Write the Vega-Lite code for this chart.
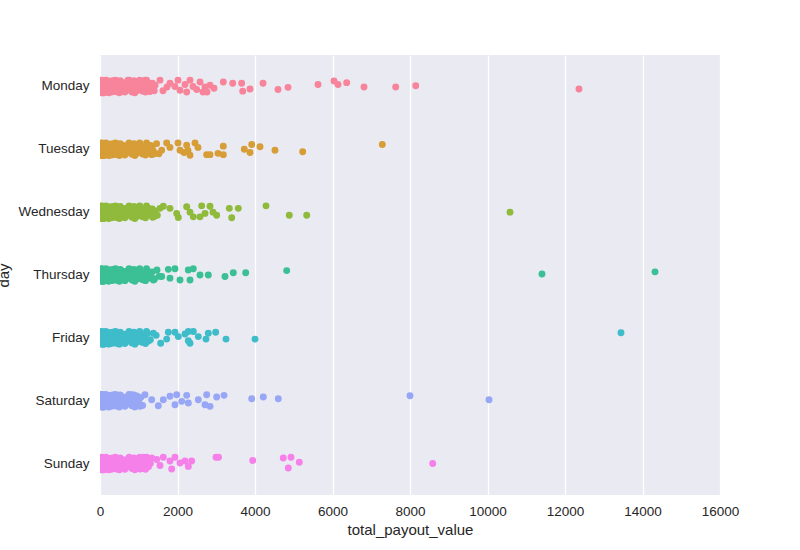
{
  "$schema": "https://vega.github.io/schema/vega-lite/v6.json",
  "autosize": "none",
  "width": 620,
  "height": 440,
  "padding": {"left": 100, "top": 55, "right": 80, "bottom": 55},
  "background": "white",
  "config": {
    "view": {"fill": "#EAEAF2", "stroke": null},
    "font": "Liberation Sans"
  },
  "data": {"values": [
    {"day":"Monday","v":0,"j":-0.1},{"day":"Monday","v":10,"j":0.05},{"day":"Monday","v":25,"j":-0.025},{"day":"Monday","v":40,"j":0.1},{"day":"Monday","v":55,"j":-0.075},{"day":"Monday","v":70,"j":0.025},{"day":"Monday","v":90,"j":-0.05},{"day":"Monday","v":110,"j":0.075},{"day":"Monday","v":130,"j":0},{"day":"Monday","v":150,"j":-0.1},{"day":"Monday","v":175,"j":0.05},{"day":"Monday","v":200,"j":-0.025},{"day":"Monday","v":225,"j":0.1},{"day":"Monday","v":250,"j":-0.075},{"day":"Monday","v":280,"j":0.025},{"day":"Monday","v":310,"j":-0.05},{"day":"Monday","v":340,"j":0.075},{"day":"Monday","v":370,"j":0},{"day":"Monday","v":400,"j":-0.1},{"day":"Monday","v":430,"j":0.05},{"day":"Monday","v":460,"j":-0.025},{"day":"Monday","v":500,"j":0.1},{"day":"Monday","v":540,"j":-0.075},{"day":"Monday","v":580,"j":0.025},{"day":"Monday","v":620,"j":-0.05},{"day":"Monday","v":660,"j":0.075},{"day":"Monday","v":700,"j":0},{"day":"Monday","v":750,"j":-0.1},{"day":"Monday","v":800,"j":0.05},{"day":"Monday","v":850,"j":-0.025},{"day":"Monday","v":900,"j":0.1},{"day":"Monday","v":950,"j":-0.075},{"day":"Monday","v":1000,"j":0.025},{"day":"Monday","v":1050,"j":-0.05},{"day":"Monday","v":1100,"j":0.075},{"day":"Monday","v":1150,"j":0},{"day":"Monday","v":1200,"j":-0.1},{"day":"Monday","v":1250,"j":0.05},{"day":"Monday","v":30,"j":-0.025},{"day":"Monday","v":80,"j":0.1},{"day":"Monday","v":15,"j":0},{"day":"Monday","v":35,"j":0.075},{"day":"Monday","v":50,"j":-0.1},{"day":"Monday","v":60,"j":0.05},{"day":"Monday","v":75,"j":-0.05},{"day":"Monday","v":95,"j":0.1},{"day":"Monday","v":120,"j":-0.075},{"day":"Monday","v":140,"j":0.025},{"day":"Monday","v":160,"j":0.075},{"day":"Monday","v":190,"j":-0.05},
    {"day":"Monday","v":20,"j":0.09},{"day":"Monday","v":45,"j":-0.06},{"day":"Monday","v":65,"j":0.035},{"day":"Monday","v":85,"j":-0.09},{"day":"Monday","v":105,"j":0.01},{"day":"Monday","v":125,"j":0.06},{"day":"Monday","v":145,"j":-0.04},{"day":"Monday","v":170,"j":0.09},{"day":"Monday","v":195,"j":0.015},{"day":"Monday","v":215,"j":-0.085},{"day":"Monday","v":240,"j":0.04},{"day":"Monday","v":265,"j":-0.01},{"day":"Monday","v":295,"j":0.09},{"day":"Monday","v":325,"j":-0.09},{"day":"Monday","v":355,"j":0.035},{"day":"Monday","v":385,"j":-0.035},{"day":"Monday","v":415,"j":0.085},{"day":"Monday","v":445,"j":-0.065},{"day":"Monday","v":480,"j":0},{"day":"Monday","v":520,"j":-0.09},{"day":"Monday","v":560,"j":0.06},{"day":"Monday","v":600,"j":-0.015},{"day":"Monday","v":640,"j":0.09},{"day":"Monday","v":680,"j":-0.06},{"day":"Monday","v":725,"j":0.035},{"day":"Monday","v":775,"j":-0.04},{"day":"Monday","v":825,"j":0.08},{"day":"Monday","v":875,"j":-0.09},{"day":"Monday","v":925,"j":0.01},{"day":"Monday","v":975,"j":0.06},{"day":"Monday","v":1025,"j":-0.1},{"day":"Monday","v":1075,"j":0.04},{"day":"Monday","v":1125,"j":-0.03},{"day":"Monday","v":1175,"j":0.09},{"day":"Monday","v":1225,"j":-0.07},{"day":"Monday","v":1300,"j":0},{"day":"Monday","v":1350,"j":-0.05},{"day":"Monday","v":1400,"j":0.07},
    {"day":"Monday","v":1626,"j":0.07},{"day":"Monday","v":1806,"j":-0.05},{"day":"Monday","v":2013,"j":-0.1},{"day":"Monday","v":2323,"j":-0.1},{"day":"Monday","v":2237,"j":0.09},{"day":"Monday","v":2710,"j":0.01},{"day":"Monday","v":2658,"j":0.09},{"day":"Monday","v":2495,"j":0.05},{"day":"Monday","v":2581,"j":-0.07},{"day":"Monday","v":2839,"j":-0.02},{"day":"Monday","v":2942,"j":0.03},{"day":"Monday","v":2761,"j":0.09},{"day":"Monday","v":2065,"j":0.06},{"day":"Monday","v":1935,"j":0},{"day":"Monday","v":2194,"j":-0.03},{"day":"Monday","v":2400,"j":0},{"day":"Monday","v":1729,"j":0.01},{"day":"Monday","v":1548,"j":-0.1},{"day":"Monday","v":1420,"j":-0.02},{"day":"Monday","v":1290,"j":0.08},{"day":"Monday","v":1161,"j":-0.1},{"day":"Monday","v":1032,"j":0},{"day":"Monday","v":826,"j":0.09},{"day":"Monday","v":723,"j":-0.1},
    {"day":"Monday","v":3182,"j":-0.07},{"day":"Monday","v":3424,"j":-0.05},{"day":"Monday","v":3656,"j":-0.05},{"day":"Monday","v":3682,"j":0.075},{"day":"Monday","v":3871,"j":0.04},{"day":"Monday","v":4207,"j":-0.05},{"day":"Monday","v":4594,"j":0.05},{"day":"Monday","v":4852,"j":0.015},{"day":"Monday","v":5626,"j":-0.03},{"day":"Monday","v":6039,"j":-0.085},{"day":"Monday","v":6142,"j":-0.03},{"day":"Monday","v":6366,"j":-0.06},{"day":"Monday","v":6813,"j":0.01},{"day":"Monday","v":7631,"j":0.01},{"day":"Monday","v":8148,"j":-0.01},{"day":"Monday","v":12361,"j":0.04},

    {"day":"Tuesday","v":0,"j":-0.1},{"day":"Tuesday","v":10,"j":0.05},{"day":"Tuesday","v":25,"j":-0.025},{"day":"Tuesday","v":40,"j":0.1},{"day":"Tuesday","v":55,"j":-0.075},{"day":"Tuesday","v":70,"j":0.025},{"day":"Tuesday","v":90,"j":-0.05},{"day":"Tuesday","v":110,"j":0.075},{"day":"Tuesday","v":130,"j":0},{"day":"Tuesday","v":150,"j":-0.1},{"day":"Tuesday","v":175,"j":0.05},{"day":"Tuesday","v":200,"j":-0.025},{"day":"Tuesday","v":225,"j":0.1},{"day":"Tuesday","v":250,"j":-0.075},{"day":"Tuesday","v":280,"j":0.025},{"day":"Tuesday","v":310,"j":-0.05},{"day":"Tuesday","v":340,"j":0.075},{"day":"Tuesday","v":370,"j":0},{"day":"Tuesday","v":400,"j":-0.1},{"day":"Tuesday","v":430,"j":0.05},{"day":"Tuesday","v":460,"j":-0.025},{"day":"Tuesday","v":500,"j":0.1},{"day":"Tuesday","v":540,"j":-0.075},{"day":"Tuesday","v":580,"j":0.025},{"day":"Tuesday","v":620,"j":-0.05},{"day":"Tuesday","v":660,"j":0.075},{"day":"Tuesday","v":700,"j":0},{"day":"Tuesday","v":750,"j":-0.1},{"day":"Tuesday","v":800,"j":0.05},{"day":"Tuesday","v":850,"j":-0.025},{"day":"Tuesday","v":900,"j":0.1},{"day":"Tuesday","v":950,"j":-0.075},{"day":"Tuesday","v":1000,"j":0.025},{"day":"Tuesday","v":1050,"j":-0.05},{"day":"Tuesday","v":1100,"j":0.075},{"day":"Tuesday","v":1150,"j":0},{"day":"Tuesday","v":1200,"j":-0.1},{"day":"Tuesday","v":1250,"j":0.05},{"day":"Tuesday","v":30,"j":-0.025},{"day":"Tuesday","v":80,"j":0.1},{"day":"Tuesday","v":15,"j":0},{"day":"Tuesday","v":35,"j":0.075},{"day":"Tuesday","v":50,"j":-0.1},{"day":"Tuesday","v":60,"j":0.05},{"day":"Tuesday","v":75,"j":-0.05},{"day":"Tuesday","v":95,"j":0.1},{"day":"Tuesday","v":120,"j":-0.075},{"day":"Tuesday","v":140,"j":0.025},{"day":"Tuesday","v":160,"j":0.075},{"day":"Tuesday","v":190,"j":-0.05},
    {"day":"Tuesday","v":20,"j":0.09},{"day":"Tuesday","v":45,"j":-0.06},{"day":"Tuesday","v":65,"j":0.035},{"day":"Tuesday","v":85,"j":-0.09},{"day":"Tuesday","v":105,"j":0.01},{"day":"Tuesday","v":125,"j":0.06},{"day":"Tuesday","v":145,"j":-0.04},{"day":"Tuesday","v":170,"j":0.09},{"day":"Tuesday","v":195,"j":0.015},{"day":"Tuesday","v":215,"j":-0.085},{"day":"Tuesday","v":240,"j":0.04},{"day":"Tuesday","v":265,"j":-0.01},{"day":"Tuesday","v":295,"j":0.09},{"day":"Tuesday","v":325,"j":-0.09},{"day":"Tuesday","v":355,"j":0.035},{"day":"Tuesday","v":385,"j":-0.035},{"day":"Tuesday","v":415,"j":0.085},{"day":"Tuesday","v":445,"j":-0.065},{"day":"Tuesday","v":480,"j":0},{"day":"Tuesday","v":520,"j":-0.09},{"day":"Tuesday","v":560,"j":0.06},{"day":"Tuesday","v":600,"j":-0.015},{"day":"Tuesday","v":640,"j":0.09},{"day":"Tuesday","v":680,"j":-0.06},{"day":"Tuesday","v":725,"j":0.035},{"day":"Tuesday","v":775,"j":-0.04},{"day":"Tuesday","v":825,"j":0.08},{"day":"Tuesday","v":875,"j":-0.09},{"day":"Tuesday","v":925,"j":0.01},{"day":"Tuesday","v":975,"j":0.06},{"day":"Tuesday","v":1025,"j":-0.1},{"day":"Tuesday","v":1075,"j":0.04},{"day":"Tuesday","v":1125,"j":-0.03},{"day":"Tuesday","v":1175,"j":0.09},{"day":"Tuesday","v":1225,"j":-0.07},{"day":"Tuesday","v":1300,"j":0},{"day":"Tuesday","v":1350,"j":-0.05},{"day":"Tuesday","v":1400,"j":0.07},
    {"day":"Tuesday","v":1300,"j":-0.06},{"day":"Tuesday","v":1380,"j":0.03},{"day":"Tuesday","v":1460,"j":-0.09},{"day":"Tuesday","v":1520,"j":0.07},
    {"day":"Tuesday","v":3724,"j":0},{"day":"Tuesday","v":3871,"j":0.05},{"day":"Tuesday","v":3915,"j":-0.075},{"day":"Tuesday","v":4129,"j":-0.04},{"day":"Tuesday","v":4516,"j":0.015},{"day":"Tuesday","v":5231,"j":0.04},{"day":"Tuesday","v":7285,"j":-0.075},{"day":"Tuesday","v":3182,"j":-0.05},{"day":"Tuesday","v":3182,"j":0.085},{"day":"Tuesday","v":3045,"j":0.065},{"day":"Tuesday","v":2753,"j":0.085},{"day":"Tuesday","v":2839,"j":0.085},{"day":"Tuesday","v":2529,"j":-0.03},{"day":"Tuesday","v":2452,"j":-0.1},{"day":"Tuesday","v":2237,"j":-0.065},{"day":"Tuesday","v":2323,"j":0.095},{"day":"Tuesday","v":2065,"j":0.015},{"day":"Tuesday","v":2013,"j":-0.1},{"day":"Tuesday","v":1806,"j":-0.03},{"day":"Tuesday","v":1592,"j":0.015},{"day":"Tuesday","v":1721,"j":-0.1},{"day":"Tuesday","v":1334,"j":0.085},{"day":"Tuesday","v":2168,"j":0.05},{"day":"Tuesday","v":2271,"j":0.02},

    {"day":"Wednesday","v":0,"j":-0.1},{"day":"Wednesday","v":10,"j":0.05},{"day":"Wednesday","v":25,"j":-0.025},{"day":"Wednesday","v":40,"j":0.1},{"day":"Wednesday","v":55,"j":-0.075},{"day":"Wednesday","v":70,"j":0.025},{"day":"Wednesday","v":90,"j":-0.05},{"day":"Wednesday","v":110,"j":0.075},{"day":"Wednesday","v":130,"j":0},{"day":"Wednesday","v":150,"j":-0.1},{"day":"Wednesday","v":175,"j":0.05},{"day":"Wednesday","v":200,"j":-0.025},{"day":"Wednesday","v":225,"j":0.1},{"day":"Wednesday","v":250,"j":-0.075},{"day":"Wednesday","v":280,"j":0.025},{"day":"Wednesday","v":310,"j":-0.05},{"day":"Wednesday","v":340,"j":0.075},{"day":"Wednesday","v":370,"j":0},{"day":"Wednesday","v":400,"j":-0.1},{"day":"Wednesday","v":430,"j":0.05},{"day":"Wednesday","v":460,"j":-0.025},{"day":"Wednesday","v":500,"j":0.1},{"day":"Wednesday","v":540,"j":-0.075},{"day":"Wednesday","v":580,"j":0.025},{"day":"Wednesday","v":620,"j":-0.05},{"day":"Wednesday","v":660,"j":0.075},{"day":"Wednesday","v":700,"j":0},{"day":"Wednesday","v":750,"j":-0.1},{"day":"Wednesday","v":800,"j":0.05},{"day":"Wednesday","v":850,"j":-0.025},{"day":"Wednesday","v":900,"j":0.1},{"day":"Wednesday","v":950,"j":-0.075},{"day":"Wednesday","v":1000,"j":0.025},{"day":"Wednesday","v":1050,"j":-0.05},{"day":"Wednesday","v":1100,"j":0.075},{"day":"Wednesday","v":1150,"j":0},{"day":"Wednesday","v":1200,"j":-0.1},{"day":"Wednesday","v":1250,"j":0.05},{"day":"Wednesday","v":30,"j":-0.025},{"day":"Wednesday","v":80,"j":0.1},{"day":"Wednesday","v":15,"j":0},{"day":"Wednesday","v":35,"j":0.075},{"day":"Wednesday","v":50,"j":-0.1},{"day":"Wednesday","v":60,"j":0.05},{"day":"Wednesday","v":75,"j":-0.05},{"day":"Wednesday","v":95,"j":0.1},{"day":"Wednesday","v":120,"j":-0.075},{"day":"Wednesday","v":140,"j":0.025},{"day":"Wednesday","v":160,"j":0.075},{"day":"Wednesday","v":190,"j":-0.05},
    {"day":"Wednesday","v":20,"j":0.09},{"day":"Wednesday","v":45,"j":-0.06},{"day":"Wednesday","v":65,"j":0.035},{"day":"Wednesday","v":85,"j":-0.09},{"day":"Wednesday","v":105,"j":0.01},{"day":"Wednesday","v":125,"j":0.06},{"day":"Wednesday","v":145,"j":-0.04},{"day":"Wednesday","v":170,"j":0.09},{"day":"Wednesday","v":195,"j":0.015},{"day":"Wednesday","v":215,"j":-0.085},{"day":"Wednesday","v":240,"j":0.04},{"day":"Wednesday","v":265,"j":-0.01},{"day":"Wednesday","v":295,"j":0.09},{"day":"Wednesday","v":325,"j":-0.09},{"day":"Wednesday","v":355,"j":0.035},{"day":"Wednesday","v":385,"j":-0.035},{"day":"Wednesday","v":415,"j":0.085},{"day":"Wednesday","v":445,"j":-0.065},{"day":"Wednesday","v":480,"j":0},{"day":"Wednesday","v":520,"j":-0.09},{"day":"Wednesday","v":560,"j":0.06},{"day":"Wednesday","v":600,"j":-0.015},{"day":"Wednesday","v":640,"j":0.09},{"day":"Wednesday","v":680,"j":-0.06},{"day":"Wednesday","v":725,"j":0.035},{"day":"Wednesday","v":775,"j":-0.04},{"day":"Wednesday","v":825,"j":0.08},{"day":"Wednesday","v":875,"j":-0.09},{"day":"Wednesday","v":925,"j":0.01},{"day":"Wednesday","v":975,"j":0.06},{"day":"Wednesday","v":1025,"j":-0.1},{"day":"Wednesday","v":1075,"j":0.04},{"day":"Wednesday","v":1125,"j":-0.03},{"day":"Wednesday","v":1175,"j":0.09},{"day":"Wednesday","v":1225,"j":-0.07},{"day":"Wednesday","v":1300,"j":0},{"day":"Wednesday","v":1350,"j":-0.05},{"day":"Wednesday","v":1400,"j":0.07},
    {"day":"Wednesday","v":1300,"j":-0.05},{"day":"Wednesday","v":1360,"j":0.08},{"day":"Wednesday","v":1420,"j":-0.02},{"day":"Wednesday","v":1480,"j":0.05},
    {"day":"Wednesday","v":2237,"j":-0.085},{"day":"Wednesday","v":2624,"j":-0.1},{"day":"Wednesday","v":2839,"j":-0.095},{"day":"Wednesday","v":2408,"j":0.075},{"day":"Wednesday","v":2581,"j":0.075},{"day":"Wednesday","v":3011,"j":0.05},{"day":"Wednesday","v":2916,"j":0},{"day":"Wednesday","v":3337,"j":-0.06},{"day":"Wednesday","v":3569,"j":-0.06},{"day":"Wednesday","v":3399,"j":0.09},{"day":"Wednesday","v":4284,"j":-0.1},{"day":"Wednesday","v":4885,"j":0.05},{"day":"Wednesday","v":5334,"j":0.05},{"day":"Wednesday","v":2021,"j":0.085},{"day":"Wednesday","v":1806,"j":-0.06},{"day":"Wednesday","v":1548,"j":-0.06},{"day":"Wednesday","v":1979,"j":0.02},{"day":"Wednesday","v":1634,"j":-0.095},{"day":"Wednesday","v":2323,"j":0},{"day":"Wednesday","v":2710,"j":0.02},{"day":"Wednesday","v":10581,"j":0},

    {"day":"Thursday","v":0,"j":-0.1},{"day":"Thursday","v":10,"j":0.05},{"day":"Thursday","v":25,"j":-0.025},{"day":"Thursday","v":40,"j":0.1},{"day":"Thursday","v":55,"j":-0.075},{"day":"Thursday","v":70,"j":0.025},{"day":"Thursday","v":90,"j":-0.05},{"day":"Thursday","v":110,"j":0.075},{"day":"Thursday","v":130,"j":0},{"day":"Thursday","v":150,"j":-0.1},{"day":"Thursday","v":175,"j":0.05},{"day":"Thursday","v":200,"j":-0.025},{"day":"Thursday","v":225,"j":0.1},{"day":"Thursday","v":250,"j":-0.075},{"day":"Thursday","v":280,"j":0.025},{"day":"Thursday","v":310,"j":-0.05},{"day":"Thursday","v":340,"j":0.075},{"day":"Thursday","v":370,"j":0},{"day":"Thursday","v":400,"j":-0.1},{"day":"Thursday","v":430,"j":0.05},{"day":"Thursday","v":460,"j":-0.025},{"day":"Thursday","v":500,"j":0.1},{"day":"Thursday","v":540,"j":-0.075},{"day":"Thursday","v":580,"j":0.025},{"day":"Thursday","v":620,"j":-0.05},{"day":"Thursday","v":660,"j":0.075},{"day":"Thursday","v":700,"j":0},{"day":"Thursday","v":750,"j":-0.1},{"day":"Thursday","v":800,"j":0.05},{"day":"Thursday","v":850,"j":-0.025},{"day":"Thursday","v":900,"j":0.1},{"day":"Thursday","v":950,"j":-0.075},{"day":"Thursday","v":1000,"j":0.025},{"day":"Thursday","v":1050,"j":-0.05},{"day":"Thursday","v":1100,"j":0.075},{"day":"Thursday","v":1150,"j":0},{"day":"Thursday","v":1200,"j":-0.1},{"day":"Thursday","v":1250,"j":0.05},{"day":"Thursday","v":30,"j":-0.025},{"day":"Thursday","v":80,"j":0.1},{"day":"Thursday","v":15,"j":0},{"day":"Thursday","v":35,"j":0.075},{"day":"Thursday","v":50,"j":-0.1},{"day":"Thursday","v":60,"j":0.05},{"day":"Thursday","v":75,"j":-0.05},{"day":"Thursday","v":95,"j":0.1},{"day":"Thursday","v":120,"j":-0.075},{"day":"Thursday","v":140,"j":0.025},{"day":"Thursday","v":160,"j":0.075},{"day":"Thursday","v":190,"j":-0.05},
    {"day":"Thursday","v":20,"j":0.09},{"day":"Thursday","v":45,"j":-0.06},{"day":"Thursday","v":65,"j":0.035},{"day":"Thursday","v":85,"j":-0.09},{"day":"Thursday","v":105,"j":0.01},{"day":"Thursday","v":125,"j":0.06},{"day":"Thursday","v":145,"j":-0.04},{"day":"Thursday","v":170,"j":0.09},{"day":"Thursday","v":195,"j":0.015},{"day":"Thursday","v":215,"j":-0.085},{"day":"Thursday","v":240,"j":0.04},{"day":"Thursday","v":265,"j":-0.01},{"day":"Thursday","v":295,"j":0.09},{"day":"Thursday","v":325,"j":-0.09},{"day":"Thursday","v":355,"j":0.035},{"day":"Thursday","v":385,"j":-0.035},{"day":"Thursday","v":415,"j":0.085},{"day":"Thursday","v":445,"j":-0.065},{"day":"Thursday","v":480,"j":0},{"day":"Thursday","v":520,"j":-0.09},{"day":"Thursday","v":560,"j":0.06},{"day":"Thursday","v":600,"j":-0.015},{"day":"Thursday","v":640,"j":0.09},{"day":"Thursday","v":680,"j":-0.06},{"day":"Thursday","v":725,"j":0.035},{"day":"Thursday","v":775,"j":-0.04},{"day":"Thursday","v":825,"j":0.08},{"day":"Thursday","v":875,"j":-0.09},{"day":"Thursday","v":925,"j":0.01},{"day":"Thursday","v":975,"j":0.06},{"day":"Thursday","v":1025,"j":-0.1},{"day":"Thursday","v":1075,"j":0.04},{"day":"Thursday","v":1125,"j":-0.03},{"day":"Thursday","v":1175,"j":0.09},{"day":"Thursday","v":1225,"j":-0.07},{"day":"Thursday","v":1300,"j":0},{"day":"Thursday","v":1350,"j":-0.05},{"day":"Thursday","v":1400,"j":0.07},
    {"day":"Thursday","v":1310,"j":-0.04},{"day":"Thursday","v":1400,"j":0.06},{"day":"Thursday","v":1470,"j":-0.08},{"day":"Thursday","v":1530,"j":0.02},
    {"day":"Thursday","v":4818,"j":-0.07},{"day":"Thursday","v":3760,"j":-0.035},{"day":"Thursday","v":3440,"j":-0.035},{"day":"Thursday","v":3226,"j":0.025},{"day":"Thursday","v":2795,"j":0},{"day":"Thursday","v":2581,"j":0},{"day":"Thursday","v":2408,"j":-0.1},{"day":"Thursday","v":2279,"j":-0.08},{"day":"Thursday","v":2323,"j":0.08},{"day":"Thursday","v":2065,"j":0.08},{"day":"Thursday","v":1935,"j":-0.1},{"day":"Thursday","v":1763,"j":-0.09},{"day":"Thursday","v":1592,"j":0.025},{"day":"Thursday","v":1376,"j":0.08},{"day":"Thursday","v":1806,"j":0.05},{"day":"Thursday","v":11406,"j":-0.015},{"day":"Thursday","v":14323,"j":-0.05},

    {"day":"Friday","v":0,"j":-0.1},{"day":"Friday","v":10,"j":0.05},{"day":"Friday","v":25,"j":-0.025},{"day":"Friday","v":40,"j":0.1},{"day":"Friday","v":55,"j":-0.075},{"day":"Friday","v":70,"j":0.025},{"day":"Friday","v":90,"j":-0.05},{"day":"Friday","v":110,"j":0.075},{"day":"Friday","v":130,"j":0},{"day":"Friday","v":150,"j":-0.1},{"day":"Friday","v":175,"j":0.05},{"day":"Friday","v":200,"j":-0.025},{"day":"Friday","v":225,"j":0.1},{"day":"Friday","v":250,"j":-0.075},{"day":"Friday","v":280,"j":0.025},{"day":"Friday","v":310,"j":-0.05},{"day":"Friday","v":340,"j":0.075},{"day":"Friday","v":370,"j":0},{"day":"Friday","v":400,"j":-0.1},{"day":"Friday","v":430,"j":0.05},{"day":"Friday","v":460,"j":-0.025},{"day":"Friday","v":500,"j":0.1},{"day":"Friday","v":540,"j":-0.075},{"day":"Friday","v":580,"j":0.025},{"day":"Friday","v":620,"j":-0.05},{"day":"Friday","v":660,"j":0.075},{"day":"Friday","v":700,"j":0},{"day":"Friday","v":750,"j":-0.1},{"day":"Friday","v":800,"j":0.05},{"day":"Friday","v":850,"j":-0.025},{"day":"Friday","v":900,"j":0.1},{"day":"Friday","v":950,"j":-0.075},{"day":"Friday","v":1000,"j":0.025},{"day":"Friday","v":1050,"j":-0.05},{"day":"Friday","v":1100,"j":0.075},{"day":"Friday","v":1150,"j":0},{"day":"Friday","v":1200,"j":-0.1},{"day":"Friday","v":1250,"j":0.05},{"day":"Friday","v":30,"j":-0.025},{"day":"Friday","v":80,"j":0.1},{"day":"Friday","v":15,"j":0},{"day":"Friday","v":35,"j":0.075},{"day":"Friday","v":50,"j":-0.1},{"day":"Friday","v":60,"j":0.05},{"day":"Friday","v":75,"j":-0.05},{"day":"Friday","v":95,"j":0.1},{"day":"Friday","v":120,"j":-0.075},{"day":"Friday","v":140,"j":0.025},{"day":"Friday","v":160,"j":0.075},{"day":"Friday","v":190,"j":-0.05},
    {"day":"Friday","v":20,"j":0.09},{"day":"Friday","v":45,"j":-0.06},{"day":"Friday","v":65,"j":0.035},{"day":"Friday","v":85,"j":-0.09},{"day":"Friday","v":105,"j":0.01},{"day":"Friday","v":125,"j":0.06},{"day":"Friday","v":145,"j":-0.04},{"day":"Friday","v":170,"j":0.09},{"day":"Friday","v":195,"j":0.015},{"day":"Friday","v":215,"j":-0.085},{"day":"Friday","v":240,"j":0.04},{"day":"Friday","v":265,"j":-0.01},{"day":"Friday","v":295,"j":0.09},{"day":"Friday","v":325,"j":-0.09},{"day":"Friday","v":355,"j":0.035},{"day":"Friday","v":385,"j":-0.035},{"day":"Friday","v":415,"j":0.085},{"day":"Friday","v":445,"j":-0.065},{"day":"Friday","v":480,"j":0},{"day":"Friday","v":520,"j":-0.09},{"day":"Friday","v":560,"j":0.06},{"day":"Friday","v":600,"j":-0.015},{"day":"Friday","v":640,"j":0.09},{"day":"Friday","v":680,"j":-0.06},{"day":"Friday","v":725,"j":0.035},{"day":"Friday","v":775,"j":-0.04},{"day":"Friday","v":825,"j":0.08},{"day":"Friday","v":875,"j":-0.09},{"day":"Friday","v":925,"j":0.01},{"day":"Friday","v":975,"j":0.06},{"day":"Friday","v":1025,"j":-0.1},{"day":"Friday","v":1075,"j":0.04},{"day":"Friday","v":1125,"j":-0.03},{"day":"Friday","v":1175,"j":0.09},{"day":"Friday","v":1225,"j":-0.07},
    {"day":"Friday","v":1300,"j":0.03},{"day":"Friday","v":1450,"j":-0.04},
    {"day":"Friday","v":4000,"j":0.02},{"day":"Friday","v":3252,"j":0.02},{"day":"Friday","v":2985,"j":-0.09},{"day":"Friday","v":2795,"j":-0.075},{"day":"Friday","v":2735,"j":0.02},{"day":"Friday","v":2537,"j":-0.02},{"day":"Friday","v":2408,"j":-0.1},{"day":"Friday","v":2279,"j":-0.1},{"day":"Friday","v":2323,"j":0.085},{"day":"Friday","v":2279,"j":0.045},{"day":"Friday","v":2194,"j":-0.06},{"day":"Friday","v":2021,"j":-0.02},{"day":"Friday","v":1935,"j":-0.09},{"day":"Friday","v":1763,"j":-0.09},{"day":"Friday","v":1721,"j":0.02},{"day":"Friday","v":1566,"j":0.085},{"day":"Friday","v":1376,"j":-0.075},{"day":"Friday","v":13445,"j":-0.08},

    {"day":"Saturday","v":0,"j":-0.1},{"day":"Saturday","v":10,"j":0.05},{"day":"Saturday","v":25,"j":-0.025},{"day":"Saturday","v":40,"j":0.1},{"day":"Saturday","v":55,"j":-0.075},{"day":"Saturday","v":70,"j":0.025},{"day":"Saturday","v":90,"j":-0.05},{"day":"Saturday","v":110,"j":0.075},{"day":"Saturday","v":130,"j":0},{"day":"Saturday","v":150,"j":-0.1},{"day":"Saturday","v":175,"j":0.05},{"day":"Saturday","v":200,"j":-0.025},{"day":"Saturday","v":225,"j":0.1},{"day":"Saturday","v":250,"j":-0.075},{"day":"Saturday","v":280,"j":0.025},{"day":"Saturday","v":310,"j":-0.05},{"day":"Saturday","v":340,"j":0.075},{"day":"Saturday","v":370,"j":0},{"day":"Saturday","v":400,"j":-0.1},{"day":"Saturday","v":430,"j":0.05},{"day":"Saturday","v":460,"j":-0.025},{"day":"Saturday","v":500,"j":0.1},{"day":"Saturday","v":540,"j":-0.075},{"day":"Saturday","v":580,"j":0.025},{"day":"Saturday","v":620,"j":-0.05},{"day":"Saturday","v":660,"j":0.075},{"day":"Saturday","v":700,"j":0},{"day":"Saturday","v":750,"j":-0.1},{"day":"Saturday","v":800,"j":0.05},{"day":"Saturday","v":850,"j":-0.025},{"day":"Saturday","v":900,"j":0.1},{"day":"Saturday","v":950,"j":-0.075},{"day":"Saturday","v":1000,"j":0.025},{"day":"Saturday","v":1050,"j":-0.05},{"day":"Saturday","v":1100,"j":0.075},{"day":"Saturday","v":30,"j":-0.025},{"day":"Saturday","v":80,"j":0.1},{"day":"Saturday","v":15,"j":0},{"day":"Saturday","v":35,"j":0.075},{"day":"Saturday","v":50,"j":-0.1},{"day":"Saturday","v":60,"j":0.05},{"day":"Saturday","v":75,"j":-0.05},{"day":"Saturday","v":95,"j":0.1},{"day":"Saturday","v":120,"j":-0.075},{"day":"Saturday","v":140,"j":0.025},{"day":"Saturday","v":160,"j":0.075},{"day":"Saturday","v":190,"j":-0.05},
    {"day":"Saturday","v":20,"j":0.09},{"day":"Saturday","v":45,"j":-0.06},{"day":"Saturday","v":65,"j":0.035},{"day":"Saturday","v":85,"j":-0.09},{"day":"Saturday","v":105,"j":0.01},{"day":"Saturday","v":125,"j":0.06},{"day":"Saturday","v":145,"j":-0.04},{"day":"Saturday","v":170,"j":0.09},{"day":"Saturday","v":195,"j":0.015},{"day":"Saturday","v":215,"j":-0.085},{"day":"Saturday","v":240,"j":0.04},{"day":"Saturday","v":265,"j":-0.01},{"day":"Saturday","v":295,"j":0.09},{"day":"Saturday","v":325,"j":-0.09},{"day":"Saturday","v":355,"j":0.035},{"day":"Saturday","v":385,"j":-0.035},{"day":"Saturday","v":415,"j":0.085},{"day":"Saturday","v":445,"j":-0.065},{"day":"Saturday","v":480,"j":0},{"day":"Saturday","v":520,"j":-0.09},{"day":"Saturday","v":560,"j":0.06},{"day":"Saturday","v":600,"j":-0.015},{"day":"Saturday","v":640,"j":0.09},{"day":"Saturday","v":680,"j":-0.06},{"day":"Saturday","v":725,"j":0.035},{"day":"Saturday","v":775,"j":-0.04},{"day":"Saturday","v":825,"j":0.08},{"day":"Saturday","v":875,"j":-0.09},{"day":"Saturday","v":925,"j":0.01},{"day":"Saturday","v":975,"j":0.06},
    {"day":"Saturday","v":8000,"j":-0.08},{"day":"Saturday","v":4601,"j":-0.03},{"day":"Saturday","v":4214,"j":-0.06},{"day":"Saturday","v":3915,"j":-0.03},{"day":"Saturday","v":3200,"j":-0.085},{"day":"Saturday","v":3011,"j":-0.06},{"day":"Saturday","v":2753,"j":-0.095},{"day":"Saturday","v":2839,"j":0.09},{"day":"Saturday","v":2710,"j":0.065},{"day":"Saturday","v":2537,"j":-0.015},{"day":"Saturday","v":2279,"j":0.035},{"day":"Saturday","v":2237,"j":-0.085},{"day":"Saturday","v":2108,"j":0.01},{"day":"Saturday","v":1935,"j":0.065},{"day":"Saturday","v":1979,"j":-0.095},{"day":"Saturday","v":1806,"j":-0.07},{"day":"Saturday","v":1634,"j":-0.015},{"day":"Saturday","v":1505,"j":0.08},{"day":"Saturday","v":1334,"j":-0.015},{"day":"Saturday","v":1161,"j":-0.095},{"day":"Saturday","v":1032,"j":0.09},{"day":"Saturday","v":818,"j":-0.095},{"day":"Saturday","v":10039,"j":-0.015},

    {"day":"Sunday","v":0,"j":-0.1},{"day":"Sunday","v":10,"j":0.05},{"day":"Sunday","v":25,"j":-0.025},{"day":"Sunday","v":40,"j":0.1},{"day":"Sunday","v":55,"j":-0.075},{"day":"Sunday","v":70,"j":0.025},{"day":"Sunday","v":90,"j":-0.05},{"day":"Sunday","v":110,"j":0.075},{"day":"Sunday","v":130,"j":0},{"day":"Sunday","v":150,"j":-0.1},{"day":"Sunday","v":175,"j":0.05},{"day":"Sunday","v":200,"j":-0.025},{"day":"Sunday","v":225,"j":0.1},{"day":"Sunday","v":250,"j":-0.075},{"day":"Sunday","v":280,"j":0.025},{"day":"Sunday","v":310,"j":-0.05},{"day":"Sunday","v":340,"j":0.075},{"day":"Sunday","v":370,"j":0},{"day":"Sunday","v":400,"j":-0.1},{"day":"Sunday","v":430,"j":0.05},{"day":"Sunday","v":460,"j":-0.025},{"day":"Sunday","v":500,"j":0.1},{"day":"Sunday","v":540,"j":-0.075},{"day":"Sunday","v":580,"j":0.025},{"day":"Sunday","v":620,"j":-0.05},{"day":"Sunday","v":660,"j":0.075},{"day":"Sunday","v":700,"j":0},{"day":"Sunday","v":750,"j":-0.1},{"day":"Sunday","v":800,"j":0.05},{"day":"Sunday","v":850,"j":-0.025},{"day":"Sunday","v":900,"j":0.1},{"day":"Sunday","v":950,"j":-0.075},{"day":"Sunday","v":1000,"j":0.025},{"day":"Sunday","v":1050,"j":-0.05},{"day":"Sunday","v":1100,"j":0.075},{"day":"Sunday","v":1150,"j":0},{"day":"Sunday","v":1200,"j":-0.1},{"day":"Sunday","v":1250,"j":0.05},{"day":"Sunday","v":30,"j":-0.025},{"day":"Sunday","v":80,"j":0.1},{"day":"Sunday","v":15,"j":0},{"day":"Sunday","v":35,"j":0.075},{"day":"Sunday","v":50,"j":-0.1},{"day":"Sunday","v":60,"j":0.05},{"day":"Sunday","v":75,"j":-0.05},{"day":"Sunday","v":95,"j":0.1},{"day":"Sunday","v":120,"j":-0.075},{"day":"Sunday","v":140,"j":0.025},{"day":"Sunday","v":160,"j":0.075},{"day":"Sunday","v":190,"j":-0.05},
    {"day":"Sunday","v":20,"j":0.09},{"day":"Sunday","v":45,"j":-0.06},{"day":"Sunday","v":65,"j":0.035},{"day":"Sunday","v":85,"j":-0.09},{"day":"Sunday","v":105,"j":0.01},{"day":"Sunday","v":125,"j":0.06},{"day":"Sunday","v":145,"j":-0.04},{"day":"Sunday","v":170,"j":0.09},{"day":"Sunday","v":195,"j":0.015},{"day":"Sunday","v":215,"j":-0.085},{"day":"Sunday","v":240,"j":0.04},{"day":"Sunday","v":265,"j":-0.01},{"day":"Sunday","v":295,"j":0.09},{"day":"Sunday","v":325,"j":-0.09},{"day":"Sunday","v":355,"j":0.035},{"day":"Sunday","v":385,"j":-0.035},{"day":"Sunday","v":415,"j":0.085},{"day":"Sunday","v":445,"j":-0.065},{"day":"Sunday","v":480,"j":0},{"day":"Sunday","v":520,"j":-0.09},{"day":"Sunday","v":560,"j":0.06},{"day":"Sunday","v":600,"j":-0.015},{"day":"Sunday","v":640,"j":0.09},{"day":"Sunday","v":680,"j":-0.06},{"day":"Sunday","v":725,"j":0.035},{"day":"Sunday","v":775,"j":-0.04},{"day":"Sunday","v":825,"j":0.08},{"day":"Sunday","v":875,"j":-0.09},{"day":"Sunday","v":925,"j":0.01},{"day":"Sunday","v":975,"j":0.06},{"day":"Sunday","v":1025,"j":-0.1},{"day":"Sunday","v":1075,"j":0.04},{"day":"Sunday","v":1125,"j":-0.03},{"day":"Sunday","v":1175,"j":0.09},{"day":"Sunday","v":1225,"j":-0.07},{"day":"Sunday","v":1300,"j":0},
    {"day":"Sunday","v":8586,"j":0},{"day":"Sunday","v":5143,"j":-0.02},{"day":"Sunday","v":4929,"j":-0.1},{"day":"Sunday","v":4730,"j":-0.09},{"day":"Sunday","v":4859,"j":0.07},{"day":"Sunday","v":3941,"j":-0.05},{"day":"Sunday","v":2994,"j":-0.1},{"day":"Sunday","v":3058,"j":-0.1},{"day":"Sunday","v":2366,"j":-0.04},{"day":"Sunday","v":2279,"j":0.045},{"day":"Sunday","v":2194,"j":-0.04},{"day":"Sunday","v":2065,"j":-0.01},{"day":"Sunday","v":1935,"j":-0.1},{"day":"Sunday","v":1806,"j":-0.04},{"day":"Sunday","v":1850,"j":0.085},{"day":"Sunday","v":1634,"j":-0.1},{"day":"Sunday","v":1548,"j":0.03},{"day":"Sunday","v":1463,"j":-0.065},{"day":"Sunday","v":1334,"j":-0.09},{"day":"Sunday","v":1117,"j":-0.1},{"day":"Sunday","v":1032,"j":0.085}
  ]},
  "mark": {"type": "circle", "size": 48, "opacity": 1, "clip": true},
  "encoding": {
    "x": {
      "field": "v", "type": "quantitative",
      "scale": {"domain": [0, 16000], "nice": false, "zero": false},
      "axis": {
        "title": "total_payout_value", "values": [0,2000,4000,6000,8000,10000,12000,14000,16000],
        "format": "d", "grid": true, "gridColor": "white", "gridWidth": 1.2,
        "ticks": false, "domain": false, "labelPadding": 9, "labelFlush": false, "labelOverlap": false, "labelBound": false,
        "labelFontSize": 13.5, "labelColor": "#262626", "labelFont": "Liberation Sans",
        "titleFontSize": 15, "titleColor": "#262626", "titleFont": "Liberation Sans", "titleFontWeight": "normal", "titlePadding": 5
      }
    },
    "y": {
      "field": "day", "type": "nominal",
      "sort": ["Monday","Tuesday","Wednesday","Thursday","Friday","Saturday","Sunday"],
      "scale": {"paddingInner": 0, "paddingOuter": 0},
      "axis": {
        "title": "day", "grid": false, "ticks": false, "domain": false, "labelPadding": 11,
        "labelFontSize": 13.5, "labelColor": "#262626", "labelFont": "Liberation Sans",
        "titleFontSize": 15, "titleColor": "#262626", "titleFont": "Liberation Sans", "titleFontWeight": "normal",
        "titleX": -97, "titleY": 220, "titleBaseline": "middle"
      }
    },
    "yOffset": {
      "field": "j", "type": "quantitative",
      "scale": {"domain": [-0.5, 0.5], "range": [0, 62.857]}
    },
    "color": {
      "field": "day", "type": "nominal", "legend": null,
      "scale": {
        "domain": ["Monday","Tuesday","Wednesday","Thursday","Friday","Saturday","Sunday"],
        "range": ["#f7849a", "#d79d36", "#8fba3b", "#3bbf94", "#3ebcc9", "#97a7f5", "#f580e9"]
      }
    }
  }
}
